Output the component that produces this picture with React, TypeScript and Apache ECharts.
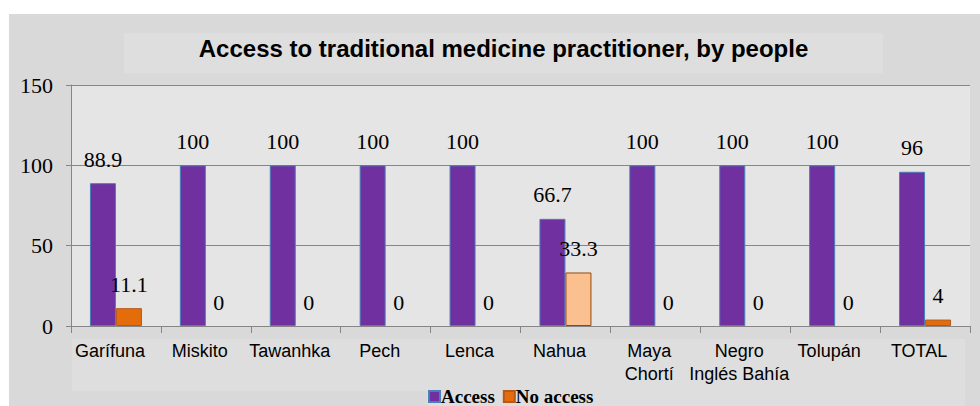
import React, { useEffect, useRef } from "react";
import * as echarts from "echarts";

const categories = [
  "Garífuna",
  "Miskito",
  "Tawanhka",
  "Pech",
  "Lenca",
  "Nahua",
  "Maya\nChortí",
  "Negro\nInglés Bahía",
  "Tolupán",
  "TOTAL",
];
const accessValues = [88.9, 100, 100, 100, 100, 66.7, 100, 100, 100, 96];
const noAccessValues = [11.1, 0, 0, 0, 0, 33.3, 0, 0, 0, 4];
const highlightedNoAccess = "Nahua";
const yTicks = { min: 0, max: 150, interval: 50 };
const titleText = "Access to traditional medicine practitioner, by people";
const seriesNames = ["Access", "No access"];

const SERIF = "'Liberation Serif', 'Times New Roman', serif";
const SANS = "'Liberation Sans', Arial, sans-serif";

export default function App() {
  const ref = useRef<HTMLDivElement>(null);
  useEffect(() => {
    if (!ref.current) return;
    const chart = echarts.init(ref.current, null, { renderer: "svg" });
    const labelStyle = {
      show: true,
      position: "top" as const,
      distance: 13,
      fontFamily: SERIF,
      fontSize: 22,
      color: "#000",
    };
    chart.setOption({
      animation: false,
      backgroundColor: "#ffffff",
      graphic: [
        { type: "rect", silent: true, z: -10, shape: { x: 9, y: 14, width: 971, height: 392 }, style: { fill: "#d9d9d9" } },
        { type: "rect", silent: true, z: -9, shape: { x: 124, y: 33, width: 759, height: 40 }, style: { fill: "#dedede" } },
        { type: "rect", silent: true, z: -9, shape: { x: 72, y: 339, width: 893, height: 52 }, style: { fill: "#dedede" } },
        { type: "rect", silent: true, z: -9, shape: { x: 427, y: 391, width: 538, height: 15 }, style: { fill: "#dedede" } },
        {
          type: "text",
          silent: true,
          x: 503.5,
          y: 48,
          style: {
            text: titleText,
            font: `bold 24px ${SANS}`,
            fill: "#000",
            align: "center",
            verticalAlign: "middle",
          },
        },
      ],
      grid: {
        left: 71,
        right: 10,
        top: 85,
        bottom: 80,
        show: true,
        backgroundColor: "#e5e5e5",
        borderWidth: 0,
      },
      legend: {
        data: seriesNames,
        left: 428,
        top: 387,
        padding: 0,
        itemGap: 8,
        itemWidth: 11,
        itemHeight: 11,
        icon: "rect",
        textStyle: { fontFamily: SERIF, fontSize: 19, fontWeight: "bold", color: "#000", lineHeight: 19, padding: [0, 0, 0, -4] },
      },
      xAxis: {
        type: "category",
        data: categories,
        boundaryGap: true,
        axisLine: { show: true, lineStyle: { color: "#868686", width: 1 } },
        axisTick: { show: true, length: 7, alignWithLabel: false, lineStyle: { color: "#868686" } },
        axisLabel: {
          interval: 0,
          margin: 13,
          fontFamily: SANS,
          fontSize: 18,
          lineHeight: 23,
          color: "#000",
          padding: [0, 12, 0, 0],
        },
      },
      yAxis: {
        type: "value",
        min: yTicks.min,
        max: yTicks.max,
        interval: yTicks.interval,
        axisLine: { show: true, lineStyle: { color: "#868686", width: 1 } },
        axisTick: { show: true, length: 5, lineStyle: { color: "#868686" } },
        axisLabel: { margin: 18, fontFamily: SERIF, fontSize: 22, color: "#000" },
        splitLine: { show: true, lineStyle: { color: "#868686", width: 1 } },
      },
      series: [
        {
          name: seriesNames[0],
          type: "bar",
          data: accessValues,
          barWidth: 26,
          barGap: "0%",
          itemStyle: { color: "#7030a0", borderColor: "#4a7ebb", borderWidth: 1 },
          label: labelStyle,
        },
        {
          name: seriesNames[1],
          type: "bar",
          data: noAccessValues.map((v, i) => {
            if (categories[i] === highlightedNoAccess)
              return { value: v, itemStyle: { color: "#fac090", borderColor: "#984807" } };
            if (v === 0)
              return { value: v, itemStyle: { color: "rgba(0,0,0,0)", borderColor: "rgba(0,0,0,0)", borderWidth: 0 } };
            return v;
          }),
          barWidth: 26,
          barGap: "0%",
          itemStyle: { color: "#e46c0a", borderColor: "#b65a1c", borderWidth: 1 },
          label: labelStyle,
        },
      ],
    });
    return () => chart.dispose();
  }, []);
  return (
    <div
      ref={ref}
      style={{ position: "fixed", left: 0, top: 0, width: 980, height: 406 }}
    />
  );
}
